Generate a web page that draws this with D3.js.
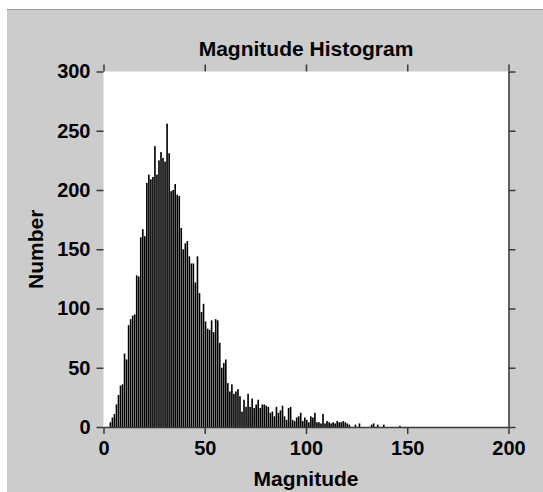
<!DOCTYPE html>
<html>
<head>
<meta charset="utf-8">
<script src="https://cdn.jsdelivr.net/npm/d3@7/dist/d3.min.js"></script>
<style>
    body { margin: 0; background: #fff; }
    #histogram text { font-family: "Liberation Sans", Arial, sans-serif; font-weight: bold; }
</style>
</head>
<body>
<div id="histogram"></div>
<script>
// counts per unit-wide magnitude bin, starting at magnitude 0
var counts = [
    0, 0, 0, 4, 8, 11, 19, 27, 35, 36,
    62, 57, 86, 91, 94, 95, 128, 127, 160, 167,
    161, 206, 213, 209, 211, 237, 213, 225, 232, 227,
    224, 256, 231, 199, 200, 205, 196, 195, 168, 150,
    155, 157, 144, 138, 138, 122, 144, 113, 97, 104,
    89, 83, 82, 90, 80, 91, 90, 71, 50, 54,
    57, 37, 30, 36, 28, 30, 32, 26, 13, 23,
    17, 28, 17, 24, 16, 19, 23, 16, 19, 19,
    18, 17, 12, 13, 9, 17, 12, 14, 18, 9,
    6, 16, 17, 6, 5, 8, 9, 12, 5, 8,
    6, 4, 9, 8, 12, 4, 4, 3, 11, 3,
    5, 4, 3, 4, 3, 5, 4, 4, 5, 4,
    3, 2, 0, 0, 2, 0, 3, 0, 0, 0,
    0, 0, 2, 3, 0, 2, 0, 0, 2, 0,
    0, 0, 0, 0, 0, 0, 1, 0, 0, 0
];
var binWidth = 1;
var xDomain = [0, 200];
var yDomain = [0, 300];
var xTicks = [0, 50, 100, 150, 200];
var yTicks = [0, 50, 100, 150, 200, 250, 300];
var title = 'Magnitude Histogram';
var xLabel = 'Magnitude';
var yLabel = 'Number';

(function() {
    var width = 543, height = 492;
    var left = 103.5, right = 508.5, top = 71.5, bottom = 427;
    var axisColor = '#3a3a3a';

    var x = d3.scaleLinear().domain(xDomain).range([left, right]);
    var y = d3.scaleLinear().domain(yDomain).range([bottom, top]);

    var chart = d3.select('#histogram').append('svg')
        .attr('width', width)
        .attr('height', height);

    // grey panel with a thin rule along its top
    chart.append('rect')
        .attr('x', 7)
        .attr('y', 10)
        .attr('width', width - 7)
        .attr('height', height - 10)
        .attr('fill', '#cccccc');
    chart.append('line')
        .attr('x1', 7).attr('x2', width)
        .attr('y1', 9.5).attr('y2', 9.5)
        .attr('stroke', '#9c9c9c');

    chart.append('rect')
        .attr('x', left)
        .attr('y', top)
        .attr('width', right - left)
        .attr('height', bottom - top)
        .attr('fill', '#fff');

    var step = x(binWidth) - x(0);
    chart.selectAll('rect.bar')
        .data(counts)
        .enter().append('rect')
        .attr('class', 'bar')
        .attr('x', function(d, i) { return x(i * binWidth); })
        .attr('y', function(d) { return y(d); })
        .attr('width', step * 0.8)
        .attr('height', function(d) { return y(0) - y(d); })
        .attr('fill', '#000');

    function style(g) {
        g.attr('color', axisColor)
            .attr('font-size', 20);
        g.selectAll('line').attr('stroke-width', 1.5);
        g.selectAll('path').attr('stroke-width', 1.5);
        g.selectAll('text').attr('fill', '#000');
    }

    chart.append('g')
        .attr('transform', 'translate(' + left + ',0)')
        .call(d3.axisLeft(y).tickValues(yTicks).tickSize(7).tickSizeOuter(0).tickPadding(6))
        .call(function(g) { g.select('.domain').remove(); })
        .call(style);

    chart.append('g')
        .attr('transform', 'translate(0,' + top + ')')
        .call(d3.axisTop(x).tickValues(xTicks).tickSize(7).tickSizeOuter(0).tickFormat(''))
        .call(function(g) { g.select('.domain').remove(); })
        .call(style);

    chart.append('g')
        .attr('transform', 'translate(' + right + ',0)')
        .call(d3.axisRight(y).tickValues(yTicks).tickSize(7).tickSizeOuter(0).tickFormat(''))
        .call(style);

    chart.append('g')
        .attr('transform', 'translate(0,' + bottom + ')')
        .call(d3.axisBottom(x).tickValues(xTicks).tickSize(7).tickSizeOuter(0).tickPadding(7))
        .call(style);

    chart.append('text')
        .attr('x', (left + right) / 2)
        .attr('y', 56)
        .attr('text-anchor', 'middle')
        .attr('font-size', 21)
        .text(title);

    chart.append('text')
        .attr('x', (left + right) / 2)
        .attr('y', 486)
        .attr('text-anchor', 'middle')
        .attr('font-size', 21)
        .text(xLabel);

    chart.append('text')
        .attr('transform', 'translate(43,' + (top + bottom) / 2 + ') rotate(-90)')
        .attr('text-anchor', 'middle')
        .attr('font-size', 21)
        .text(yLabel);
})();
</script>
</body>
</html>
